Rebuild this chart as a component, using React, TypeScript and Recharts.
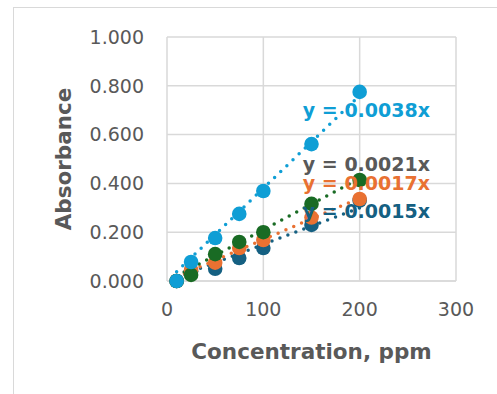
import {
  ScatterChart, Scatter, XAxis, YAxis, CartesianGrid,
  ReferenceLine, ReferenceDot,
} from 'recharts';

const CONC = [10, 25, 50, 75, 100, 150, 200];

const SERIES_A = [0.0, 0.04, 0.05, 0.094, 0.135, 0.23, 0.33];    // dark blue
const SERIES_B = [0.0, 0.045, 0.075, 0.135, 0.168, 0.26, 0.336]; // orange
const SERIES_C = [0.0, 0.025, 0.11, 0.16, 0.2, 0.316, 0.414];    // green
const SERIES_D = [0.0, 0.078, 0.176, 0.275, 0.369, 0.561, 0.775]; // light blue

const TREND_X = [10, 200];
const TREND_A = [0.015, 0.3];
const TREND_B = [0.017, 0.34];
const TREND_C = [0.021, 0.42];
const TREND_D = [0.038, 0.76];

const EQUATIONS = ['y = 0.0015x', 'y = 0.0017x', 'y = 0.0021x', 'y = 0.0038x'];

const X_TICKS = [0, 100, 200, 300];
const Y_TICKS = [0, 0.2, 0.4, 0.6, 0.8, 1.0];

const COLORS = ['#156082', '#E97132', '#196B24', '#0F9ED5'];
const LABEL_COLORS = ['#156082', '#E97132', '#595959', '#0F9ED5'];
// where each equation label sits, in data units
const LABEL_AT = [
  { x: 207, y: 0.287 },
  { x: 207, y: 0.40 },
  { x: 207, y: 0.48 },
  { x: 207, y: 0.70 },
];

const toPoints = (ys: number[]) => CONC.map((x, i) => ({ x, y: ys[i] }));

const SERIES = [SERIES_A, SERIES_B, SERIES_C, SERIES_D];
const TRENDS = [TREND_A, TREND_B, TREND_C, TREND_D];

const FONT = '"DejaVu Sans", sans-serif';

const marker = (color: string) => (p: any) => (
  <circle cx={p.cx} cy={p.cy} r={7.3} fill={color} />
);

export default function App() {
  return (
    <div style={{ position: 'absolute', left: 0, top: 0, width: 497, height: 394, overflow: 'hidden', background: '#fff' }}>
      <div
        style={{
          position: 'absolute', left: 13, top: 7, width: 600, height: 500,
          borderLeft: '1px solid #d9d9d9', borderTop: '1px solid #d9d9d9',
        }}
      />
      <div style={{ position: 'absolute', left: 0, top: 0 }}>
        <ScatterChart
          width={497}
          height={394}
          margin={{ top: 37, right: 41, bottom: 0, left: 0 }}
          style={{ fontFamily: FONT }}
        >
          <CartesianGrid stroke="#d9d9d9" strokeWidth={1.5} />
          <XAxis
            type="number"
            dataKey="x"
            domain={[0, 300]}
            ticks={X_TICKS}
            height={113}
            axisLine={{ stroke: '#d9d9d9', strokeWidth: 1.5 }}
            tickLine={false}
            tickSize={0}
            tickMargin={22}
            tick={{ fill: '#595959', fontSize: 19 }}
            label={{
              value: 'Concentration, ppm',
              position: 'insideBottom',
              offset: 35,
              fill: '#595959',
              fontSize: 21.5,
              fontWeight: 'bold',
            }}
          />
          <YAxis
            type="number"
            dataKey="y"
            domain={[0, 1]}
            ticks={Y_TICKS}
            width={167}
            axisLine={false}
            tickLine={false}
            tickSize={0}
            tickMargin={23}
            tick={{ fill: '#595959', fontSize: 19 }}
            tickFormatter={(v: number) => v.toFixed(3)}
            label={{
              value: 'Absorbance',
              angle: -90,
              position: 'insideLeft',
              offset: 63,
              fill: '#595959',
              fontSize: 21.5,
              fontWeight: 'bold',
              style: { textAnchor: 'middle' },
            }}
          />

          {SERIES.map((ys, i) => (
            <Scatter
              key={i}
              data={toPoints(ys)}
              fill={COLORS[i]}
              shape={marker(COLORS[i])}
              isAnimationActive={false}
            />
          ))}

          {TRENDS.map((ys, i) => (
            <ReferenceLine
              key={'t' + i}
              segment={[
                { x: TREND_X[0], y: ys[0] },
                { x: TREND_X[1], y: ys[1] },
              ]}
              stroke={COLORS[i]}
              strokeWidth={3.5}
              strokeDasharray="0 8.5"
              strokeLinecap="round"
            />
          ))}

          {EQUATIONS.map((eq, i) => (
            <ReferenceDot
              key={'l' + i}
              x={LABEL_AT[i].x}
              y={LABEL_AT[i].y}
              r={0}
              fill="none"
              stroke="none"
              label={{
                value: eq,
                position: 'center',
                fill: LABEL_COLORS[i],
                fontSize: 19,
                fontWeight: 'bold',
              }}
            />
          ))}
        </ScatterChart>
      </div>
    </div>
  );
}
